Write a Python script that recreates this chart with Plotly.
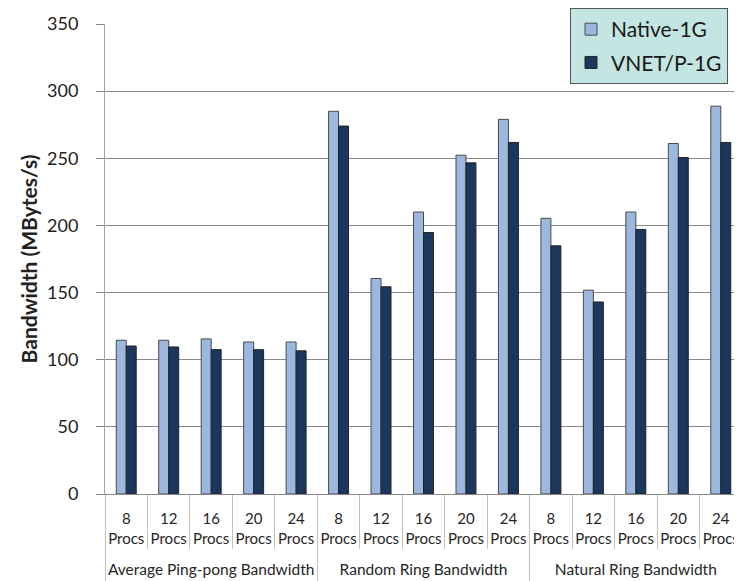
import plotly.graph_objects as go

groups = ["Average Ping-pong Bandwidth"] * 5 + ["Random Ring Bandwidth"] * 5 + ["Natural Ring Bandwidth"] * 5
procs = ["8<br>Procs", "12<br>Procs", "16<br>Procs", "20<br>Procs", "24<br>Procs"] * 3
native_1g = [114.5, 114.5, 115.5, 113.2, 113.2,
             285.0, 160.5, 210.0, 252.3, 279.0,
             205.3, 151.8, 210.0, 261.0, 288.8]
vnetp_1g = [110.2, 109.5, 107.5, 107.5, 106.6,
            274.0, 154.3, 194.7, 246.6, 261.8,
            184.8, 143.0, 197.0, 250.6, 261.8]
series_names = ["Native-1G", "VNET/P-1G"]
y_ticks = [0, 50, 100, 150, 200, 250, 300, 350]

font_family = "Lato, Open Sans, sans-serif"

# category positions derived from the data
idx = list(range(len(procs)))
boundaries = [i - 0.5 for i in range(len(procs) + 1)]
group_names = list(dict.fromkeys(groups))
group_first = [groups.index(g) for g in group_names]
group_last = [len(groups) - 1 - groups[::-1].index(g) for g in group_names]
group_centers = [(a + b) / 2 for a, b in zip(group_first, group_last)]
group_bounds = [group_first[0] - 0.5] + [b + 0.5 for b in group_last]
x_range = [boundaries[0], boundaries[-1]]

fig = go.Figure()
fig.add_trace(go.Bar(
    x=idx, y=native_1g, name=series_names[0], legendgroup="a",
    marker=dict(color="#9db8df", line=dict(color="#4a4a4a", width=1)),
))
fig.add_trace(go.Bar(
    x=idx, y=vnetp_1g, name=series_names[1], legendgroup="b",
    marker=dict(color="#1c375e", line=dict(color="#222222", width=1)),
))
# empty trace so the group-label axis is drawn
fig.add_trace(go.Scatter(x=[], y=[], xaxis="x2", showlegend=False, hoverinfo="skip"))

# the page body adds an 8px offset; compensate so the plot area sits at x 105-742, y 24-494
fig.update_layout(
    width=734, height=573,
    margin=dict(l=97, r=0, t=16, b=87, autoexpand=False),
    paper_bgcolor="white", plot_bgcolor="white",
    barmode="group", bargap=0.53, bargroupgap=0,
    font=dict(family=font_family, color="#262626"),
    showlegend=True,
    legend=dict(
        x=(570 - 105) / 637, y=1 + 16 / 470, xanchor="left", yanchor="top",
        bgcolor="#c3e6e3", bordercolor="#555555", borderwidth=1,
        font=dict(size=21, family=font_family, color="#1a1a1a"),
        traceorder="grouped", tracegroupgap=3, entrywidth=140,
    ),
    yaxis=dict(
        range=[0, 350], tickvals=y_ticks, showgrid=True, gridcolor="#8a8a8a", gridwidth=1,
        ticks="outside", ticklen=8, tickcolor="#8a8a8a",
        showline=True, linecolor="#a6a6a6", linewidth=1,
        tickfont=dict(size=18, family=font_family, color="#222222"),
        ticklabelstandoff=14,
        title=dict(text="<b>Bandwidth (MBytes/s)</b>", standoff=3,
                   font=dict(size=21, family=font_family, color="#222222")),
        zeroline=False,
    ),
    xaxis=dict(
        range=x_range, tickmode="array", tickvals=idx, ticktext=procs,
        showline=True, linecolor="#8a8a8a", linewidth=1, showgrid=False, zeroline=False,
        ticks="", tickangle=0, ticklabelstandoff=11,
        tickfont=dict(size=15, family=font_family, color="#262626"),
        minor=dict(tickmode="array", tickvals=boundaries, ticks="outside", ticklen=54,
                   tickcolor="#c0c0c0", tickwidth=1, showgrid=False),
    ),
    xaxis2=dict(
        overlaying="x", anchor="y", side="bottom", range=x_range,
        tickmode="array", tickvals=group_centers, ticktext=group_names,
        showline=False, showgrid=False, zeroline=False,
        ticks="", tickangle=0, ticklabelstandoff=64,
        tickfont=dict(size=15.5, family=font_family, color="#262626"),
        minor=dict(tickmode="array", tickvals=group_bounds, ticks="outside", ticklen=90,
                   tickcolor="#c0c0c0", tickwidth=1, showgrid=False),
    ),
)

fig.write_html("out.html")
